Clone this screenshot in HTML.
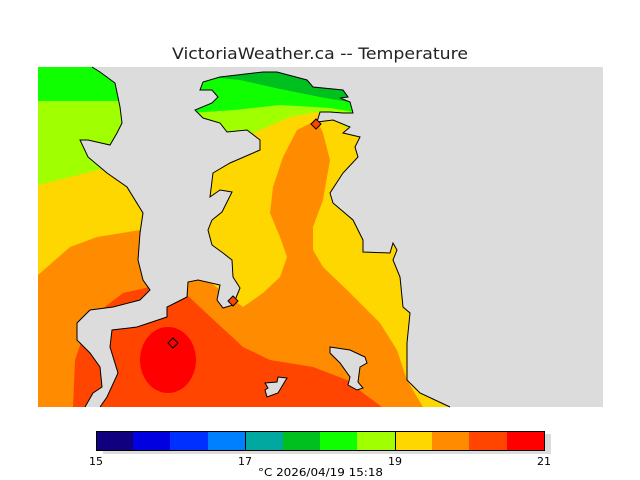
<!DOCTYPE html>
<html><head><style>html,body{margin:0;padding:0;background:#fff}svg{display:block}</style></head>
<body>
<svg width="640" height="480" viewBox="0 0 640 480" xmlns="http://www.w3.org/2000/svg" font-family="DejaVu Sans, Liberation Sans, sans-serif">
<defs>
<clipPath id="land">
<path d="M38,67 L92,67 L100,72 L115,83 L120,107 L122,123 L117,133 L110,145 L88,140 L80,140 L88,157 L107,173 L127,187 L143,213 L140,233 L138,260 L143,280 L150,290 L140,300 L113,307 L90,310 L77,323 L77,340 L90,353 L100,367 L102,387 L93,393 L85,407 L38,407 Z"/>
<path d="M100,407 L107,397 L118,373 L110,347 L112,330 L137,327 L167,317 L167,307 L187,297 L188,282 L198,280 L220,285 L217,300 L223,308 L233,305 L240,288 L233,277 L232,260 L223,253 L212,245 L208,230 L212,220 L222,212 L232,192 L220,190 L210,197 L213,173 L230,163 L260,150 L260,140 L247,130 L227,132 L220,123 L203,118 L195,110 L212,103 L218,97 L212,90 L200,90 L203,82 L220,77 L263,72 L277,72 L307,80 L313,87 L343,90 L348,97 L340,98 L350,102 L353,113 L343,113 L330,112 L320,112 L317,122 L333,120 L350,127 L343,133 L360,137 L355,147 L358,157 L343,173 L330,193 L333,203 L353,220 L363,240 L363,252 L390,253 L393,243 L397,250 L393,260 L400,277 L403,307 L410,313 L407,343 L407,380 L420,393 L450,407 Z"/>
</clipPath>
</defs>
<rect x="38" y="67" width="565" height="340" fill="#dcdcdc"/>
<g clip-path="url(#land)">
<rect x="38" y="67" width="565" height="340" fill="#a0ff00"/>
<rect x="38" y="60" width="100" height="41" fill="#10ff00"/>
<path d="M190,60 L360,60 L360,113 L330,108 L280,105 L235,110 L190,113 Z" fill="#10ff00"/>
<path d="M200,60 L360,60 L360,104 L320,97 L280,89 L240,80 L200,76 Z" fill="#00c020"/>
<path d="M265,60 L300,60 L312,82 L290,76 Z" fill="#00a8a0"/>
<path d="M38,185 L110,167 L160,160 L253,133 L290,117 L317,112 L340,123 L370,145 L640,145 L640,480 L38,480 Z" fill="#ffd700"/>
<path d="M38,275 L70,247 L97,237 L140,230 L243,307 L263,293 L280,277 L287,257 L280,237 L270,213 L273,187 L283,157 L297,130 L317,120 L323,133 L330,160 L323,200 L313,227 L313,250 L323,267 L347,290 L380,323 L397,350 L407,380 L423,407 L38,407 Z" fill="#ff8c00"/>
<path d="M73,407 L75,360 L83,337 L97,313 L123,293 L150,287 L160,300 L187,295 L217,323 L243,347 L270,360 L313,367 L347,380 L363,393 L382,407 Z" fill="#ff4500"/>
<ellipse cx="168" cy="360" rx="28" ry="33" fill="#ff0000"/>
</g>
<g fill="none" stroke="#000" stroke-width="1">
<path d="M92,67 L100,72 L115,83 L120,107 L122,123 L117,133 L110,145 L88,140 L80,140 L88,157 L107,173 L127,187 L143,213 L140,233 L138,260 L143,280 L150,290 L140,300 L113,307 L90,310 L77,323 L77,340 L90,353 L100,367 L102,387 L93,393 L85,407"/>
<path d="M100,407 L107,397 L118,373 L110,347 L112,330 L137,327 L167,317 L167,307 L187,297 L188,282 L198,280 L220,285 L217,300 L223,308 L233,305 L240,288 L233,277 L232,260 L223,253 L212,245 L208,230 L212,220 L222,212 L232,192 L220,190 L210,197 L213,173 L230,163 L260,150 L260,140 L247,130 L227,132 L220,123 L203,118 L195,110 L212,103 L218,97 L212,90 L200,90 L203,82 L220,77 L263,72 L277,72 L307,80 L313,87 L343,90 L348,97 L340,98 L350,102 L353,113 L343,113 L330,112 L320,112 L317,122 L333,120 L350,127 L343,133 L360,137 L355,147 L358,157 L343,173 L330,193 L333,203 L353,220 L363,240 L363,252 L390,253 L393,243 L397,250 L393,260 L400,277 L403,307 L410,313 L407,343 L407,380 L420,393 L450,407"/>
</g>
<path d="M330,347 L350,350 L365,357 L367,363 L360,367 L358,382 L363,388 L357,390 L348,385 L350,377 L340,363 L330,353 Z" fill="#dcdcdc" stroke="#000"/>
<path d="M265,383 L277,382 L278,377 L287,378 L278,393 L267,397 L265,390 L268,388 Z" fill="#dcdcdc" stroke="#000"/>
<g stroke="#000" stroke-width="1">
<path d="M316,119 L321,124 L316,129 L311,124 Z" fill="#ff4500"/>
<path d="M233,296 L238,301 L233,306 L228,301 Z" fill="#ff4500"/>
<path d="M173,338 L178,343 L173,348 L168,343 Z" fill="none"/>
</g>
<text x="172" y="59" font-size="16" textLength="296" lengthAdjust="spacingAndGlyphs" fill="#222">VictoriaWeather.ca -- Temperature</text>
<rect x="103" y="434" width="448" height="20" fill="#dcdcdc"/>
<g stroke="none">
<rect x="96" y="431" width="38" height="19" fill="#10007f"/>
<rect x="133" y="431" width="38" height="19" fill="#0000e0"/>
<rect x="170" y="431" width="38" height="19" fill="#0030ff"/>
<rect x="208" y="431" width="38" height="19" fill="#0080ff"/>
<rect x="245" y="431" width="38" height="19" fill="#00a8a0"/>
<rect x="283" y="431" width="38" height="19" fill="#00c020"/>
<rect x="320" y="431" width="38" height="19" fill="#10ff00"/>
<rect x="357" y="431" width="38" height="19" fill="#a0ff00"/>
<rect x="395" y="431" width="38" height="19" fill="#ffd700"/>
<rect x="432" y="431" width="38" height="19" fill="#ff8c00"/>
<rect x="469" y="431" width="38" height="19" fill="#ff4500"/>
<rect x="507" y="431" width="37" height="19" fill="#ff0000"/>
</g>
<rect x="96.5" y="431.5" width="448" height="19" fill="none" stroke="#000"/>
<line x1="245.5" y1="431" x2="245.5" y2="451" stroke="#000"/>
<line x1="395.5" y1="431" x2="395.5" y2="451" stroke="#000"/>
<g font-size="11" text-anchor="middle" fill="#000">
<text x="96" y="465">15</text>
<text x="245" y="465">17</text>
<text x="395" y="465">19</text>
<text x="544" y="465">21</text>
</g>
<text x="258" y="476" font-size="11" textLength="125" lengthAdjust="spacingAndGlyphs" fill="#000">°C  2026/04/19 15:18</text>
</svg>
</body></html>
